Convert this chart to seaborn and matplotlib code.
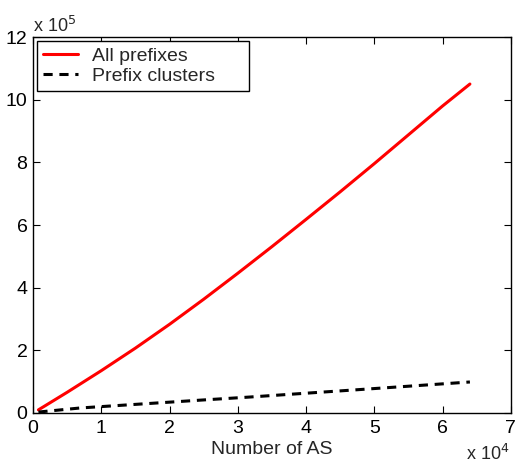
import matplotlib
matplotlib.use("Agg")
import matplotlib.pyplot as plt
import seaborn as sns
import pandas as pd

# Data (x in units of 1e4 ASes, y in units of 1e5 prefixes)
all_x = [0.08, 0.5, 1.0, 1.5, 2.0, 2.5, 3.0, 3.5, 4.0, 4.5, 5.0, 5.5, 6.0, 6.4]
all_y = [0.10, 0.66, 1.35, 2.07, 2.83, 3.63, 4.46, 5.31, 6.18, 7.06, 7.96, 8.88, 9.80, 10.5]
clu_x = [0.08, 0.69, 2.45, 3.18, 4.8, 6.4]
clu_y = [0.03, 0.16, 0.41, 0.51, 0.75, 0.99]
x_ticks = [0, 1, 2, 3, 4, 5, 6, 7]
y_ticks = [0, 2, 4, 6, 8, 10, 12]

sns.set_style("ticks")
plt.rcParams["font.family"] = ["Liberation Sans", "DejaVu Sans"]

fig = plt.figure(figsize=(5.15, 4.63), dpi=100)
ax = fig.add_axes([0.064, 0.108, 0.928, 0.812])

df_all = pd.DataFrame({"x": all_x, "y": all_y})
df_clu = pd.DataFrame({"x": clu_x, "y": clu_y})
sns.lineplot(data=df_all, x="x", y="y", ax=ax, color="#ff0000", lw=2.2,
             label="All prefixes")
sns.lineplot(data=df_clu, x="x", y="y", ax=ax, color="black", lw=2.2,
             label="Prefix clusters")
ax.lines[1].set_dashes((3.0, 2.2))

ax.set_xlim(0, 7)
ax.set_ylim(0, 12)
ax.set_xticks(x_ticks)
ax.set_yticks(y_ticks)
ax.set_xticklabels([str(t) for t in x_ticks], fontsize=14)
ax.set_yticklabels([str(t) for t in y_ticks], fontsize=14)
ax.tick_params(direction="in", length=5, width=0.8, top=True, right=True,
               colors="black")
ax.tick_params(axis="x", pad=5)
ax.tick_params(axis="y", pad=4)
for s in ax.spines.values():
    s.set_linewidth(1.0)
    s.set_color("black")
    s.set_visible(True)
ax.set_xlabel("Number of AS", fontsize=14, labelpad=3)
ax.set_ylabel("")

fig.text(0.064, 0.931, r"x 10$^5$", fontsize=13, ha="left", va="baseline")
fig.text(0.905, 0.006, r"x 10$^4$", fontsize=13, ha="left", va="baseline")

leg = ax.legend(loc="upper left", fontsize=14, frameon=True, fancybox=False,
                edgecolor="black", framealpha=1, borderpad=0.3,
                handlelength=1.8, handletextpad=0.75, labelspacing=0.15,
                bbox_to_anchor=(0.0084, 0.5, 0.4435, 0.489), mode="expand",
                borderaxespad=0)
leg.get_frame().set_linewidth(1.0)

fig.savefig("out.png", dpi=100)
